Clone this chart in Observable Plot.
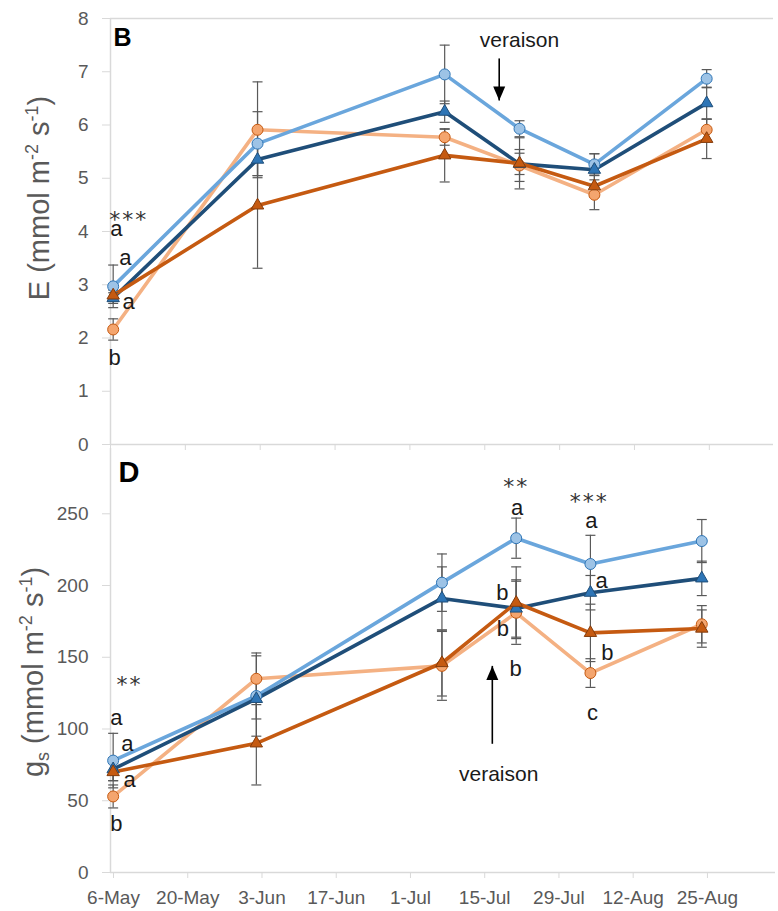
<!DOCTYPE html>
<html><head><meta charset="utf-8">
<script src="https://cdn.jsdelivr.net/npm/d3@7"></script>
<script src="https://cdn.jsdelivr.net/npm/@observablehq/plot@0.6"></script>
<style>
body{margin:0;background:#fff;}
#wrap{position:relative;width:778px;height:911px;background:#fff;}
#wrap svg{position:absolute;left:0;}
</style></head><body><div id="wrap"></div>
<script>
// ---- data ----
const sampleDays = [0.5, 27.5, 62.5, 76.5, 90.5, 111.5]; // days after 6-May
const tickDays = [0, 14, 28, 42, 56, 70, 84, 98, 112];
const tickLabels = ["6-May","20-May","3-Jun","17-Jun","1-Jul","15-Jul","29-Jul","12-Aug","25-Aug"];
const seriesNames = ["T1", "T2", "T3", "T4"]; // T1 light-blue circles, T2 dark-blue triangles, T3 light-orange circles, T4 dark-orange triangles

const E_T1 = [2.97, 5.65, 6.95, 5.93, 5.26, 6.87];
const E_T2 = [2.75, 5.35, 6.25, 5.27, 5.16, 6.41];
const E_T3 = [2.16, 5.91, 5.77, 5.24, 4.69, 5.91];
const E_T4 = [2.80, 4.49, 5.43, 5.28, 4.85, 5.74];
const E_T1_err = [0.40, 0.60, 0.55, 0.15, 0.20, 0.17];
const E_T2_err = [0.10, 0.30, 0.20, 0.20, 0.30, 0.30];
const E_T3_err = [0.20, 0.90, 0.15, 0.30, 0.28, 0.20];
const E_T4_err = [0.10, 1.18, 0.50, 0.48, 0.20, 0.37];

const gs_T1 = [78, 123, 202, 233, 215, 231];
const gs_T2 = [72, 121, 191, 184, 195, 205];
const gs_T3 = [53, 135, 144, 181, 139, 173];
const gs_T4 = [70, 90, 146, 188, 167, 170];
const gs_T1_err = [19, 28, 20, 14, 20, 15];
const gs_T2_err = [8, 14, 22, 20, 12, 12];
const gs_T3_err = [8, 18, 24, 22, 10, 13];
const gs_T4_err = [6, 29, 23, 25, 20, 13];

const E_yTicks = [0, 1, 2, 3, 4, 5, 6, 7, 8];
const gs_yTicks = [0, 50, 100, 150, 200, 250];

const E_letters = [
  {day: 1.1, v: 4.04, t: "a"}, {day: 2.8, v: 3.51, t: "a"},
  {day: 3.4, v: 2.67, t: "a"}, {day: 0.75, v: 1.63, t: "b"}
];
const E_stars = [{day: 3.4, v: 4.22, t: "***"}];
const gs_letters = [
  {day: 1.1, v: 108, t: "a"}, {day: 3.2, v: 89.7, t: "a"}, {day: 3.6, v: 64.6, t: "a"}, {day: 1.1, v: 34, t: "b"},
  {day: 76.7, v: 254, t: "a"}, {day: 73.9, v: 195, t: "b"}, {day: 74, v: 170, t: "b"}, {day: 76.4, v: 142, t: "b"},
  {day: 90.7, v: 245, t: "a"}, {day: 92.6, v: 203, t: "a"}, {day: 93.7, v: 153, t: "b"}, {day: 90.9, v: 111, t: "c"}
];
const gs_stars = [{day: 3.6, v: 130.5, t: "**"}, {day: 76.5, v: 269, t: "**"}, {day: 90.3, v: 258.5, t: "***"}];

const E_veraison = {day: 76.5, v: 7.6, arrowDay: 72.7, from: 7.25, to: 6.46};
const gs_veraison = {day: 73.2, v: 68.8, arrowDay: 72.0, from: 89.7, to: 144};

// ---- styles ----
const styles = {
  T1: {line: "#6AA6DC", fill: "#9DC3E6", stroke: "#2E75B6", symbol: "circle", r: 5.5},
  T2: {line: "#1F4E79", fill: "#2E75B6", stroke: "#1F4E79", symbol: "triangle", r: 4.6},
  T3: {line: "#F4B183", fill: "#F4A56E", stroke: "#C55A11", symbol: "circle", r: 5.5},
  T4: {line: "#C55A11", fill: "#C55A11", stroke: "#843C0C", symbol: "triangle", r: 4.6}
};
const drawOrder = ["T3", "T1", "T2", "T4"];

const capSym = {draw(ctx) { ctx.moveTo(-5, 0); ctx.lineTo(5, 0); }};
const headDown = {draw(ctx) { ctx.moveTo(0, 0); ctx.lineTo(-6, -14); ctx.lineTo(6, -14); ctx.closePath(); }};
const headUp = {draw(ctx) { ctx.moveTo(0, 0); ctx.lineTo(-6, 14); ctx.lineTo(6, 14); ctx.closePath(); }};

function table(vals, errs) {
  return seriesNames.flatMap((s, k) => sampleDays.map((d, i) => ({series: s, day: d, v: vals[k][i], e: errs[k][i]})));
}
const E_rows = table([E_T1, E_T2, E_T3, E_T4], [E_T1_err, E_T2_err, E_T3_err, E_T4_err]);
const gs_rows = table([gs_T1, gs_T2, gs_T3, gs_T4], [gs_T1_err, gs_T2_err, gs_T3_err, gs_T4_err]);

const FONT = "'Liberation Sans', Arial, sans-serif";
const AXIS = "#d9d9d9";
const INK = "#1a1a1a";

function seriesMarks(rows) {
  const m = [];
  for (const s of drawOrder) {
    m.push(Plot.line(rows.filter(d => d.series === s), {x: "day", y: "v", stroke: styles[s].line, strokeWidth: 3.6}));
  }
  m.push(Plot.ruleX(rows, {x: "day", y1: d => d.v - d.e, y2: d => d.v + d.e, stroke: "#595959", strokeWidth: 1.2}));
  m.push(Plot.dot(rows, {x: "day", y: d => d.v + d.e, symbol: capSym, stroke: "#595959", strokeWidth: 1.2, fill: "none"}));
  m.push(Plot.dot(rows, {x: "day", y: d => d.v - d.e, symbol: capSym, stroke: "#595959", strokeWidth: 1.2, fill: "none"}));
  for (const s of drawOrder) {
    const st = styles[s];
    m.push(Plot.dot(rows.filter(d => d.series === s), {x: "day", y: "v", symbol: st.symbol, r: st.r, fill: st.fill, stroke: st.stroke, strokeWidth: 1}));
  }
  return m;
}

function annotMarks(letters, stars, ver, head) {
  return [
    Plot.text(letters, {x: "day", y: "v", text: "t", fontSize: 22, fill: INK}),
    Plot.text(stars, {x: "day", y: "v", text: "t", fontSize: 22, fontFamily: "'DejaVu Sans', sans-serif", fill: "#333"}),
    Plot.text([ver], {x: "day", y: "v", text: () => "veraison", fontSize: 21, fill: INK}),
    Plot.link([ver], {x1: "arrowDay", x2: "arrowDay", y1: "from", y2: "to", stroke: "#000", strokeWidth: 1.6}),
    Plot.dot([ver], {x: "arrowDay", y: "to", symbol: head, fill: "#000", stroke: "none"})
  ];
}

const wrap = document.getElementById("wrap");

// ---- top panel (B) ----
const topChart = Plot.plot({
  width: 778, height: 447,
  marginLeft: 110, marginRight: 5, marginTop: 18, marginBottom: 3,
  style: {fontFamily: FONT, fontSize: "19px", color: "#595959", background: "transparent", overflow: "visible"},
  x: {domain: [0, 124]},
  y: {domain: [0, 8]},
  marks: [
    Plot.ruleY([0, 8], {stroke: AXIS, strokeWidth: 1.5}),
    Plot.ruleX([0], {stroke: AXIS, strokeWidth: 1.5}),
    Plot.axisY({ticks: E_yTicks, tickSize: 8, tickPadding: 14, stroke: AXIS, fill: "#595959", label: null, fontSize: 19}),
    Plot.axisX({ticks: tickDays, tickSize: 6, tickFormat: () => "", stroke: AXIS, label: null}),
    ...seriesMarks(E_rows),
    ...annotMarks(E_letters, E_stars, E_veraison, headDown),
    Plot.text(["B"], {frameAnchor: "top-left", dx: 3, dy: 10, textAnchor: "start", fontWeight: "bold", fontSize: 25, fill: "#000"})
  ]
});
topChart.style.top = "0px";
wrap.appendChild(topChart);

// ---- bottom panel (D) ----
const bottomChart = Plot.plot({
  width: 778, height: 464,
  marginLeft: 110, marginRight: 3, marginTop: 1, marginBottom: 39,
  style: {fontFamily: FONT, fontSize: "19px", color: "#595959", background: "transparent", overflow: "visible"},
  x: {domain: [0, 125.4]},
  y: {domain: [0, 295.5]},
  marks: [
    Plot.ruleY([0], {stroke: AXIS, strokeWidth: 1.5}),
    Plot.ruleX([0], {stroke: AXIS, strokeWidth: 1.5}),
    Plot.axisY({ticks: gs_yTicks, tickSize: 8, tickPadding: 14, stroke: AXIS, fill: "#595959", label: null, fontSize: 19}),
    Plot.axisX({ticks: tickDays, tickSize: 6, tickPadding: 12, dx: 3, tickFormat: d => tickLabels[tickDays.indexOf(d)], stroke: AXIS, fill: "#595959", label: null, fontSize: 19}),
    ...seriesMarks(gs_rows),
    ...annotMarks(gs_letters, gs_stars, gs_veraison, headUp),
    Plot.text(["D"], {frameAnchor: "top-left", dx: 8, dy: 13, textAnchor: "start", fontWeight: "bold", fontSize: 29, fill: "#000"})
  ]
});
bottomChart.style.top = "447px";
wrap.appendChild(bottomChart);

// asterisk spacing
for (const svg of [topChart, bottomChart]) {
  d3.select(svg).selectAll("text").filter(function() { return /^\*+$/.test(this.textContent); })
    .attr("letter-spacing", "2px");
}

// y-axis titles with super/subscripts
function yTitle(svg, x, y, parts) {
  const t = d3.select(svg).append("text")
    .attr("transform", `translate(${x},${y}) rotate(-90)`)
    .attr("text-anchor", "middle")
    .attr("fill", "#595959")
    .attr("font-family", FONT)
    .attr("font-size", 29);
  let shift = 0;
  for (const [txt, kind] of parts) {
    const target = kind === "sup" ? -11 : kind === "sub" ? 6 : 0;
    const ts = t.append("tspan").text(txt).attr("dy", target - shift);
    if (kind) ts.attr("font-size", 18);
    shift = target;
  }
}
yTitle(topChart, 49, 198, [["E (mmol m"], ["-2", "sup"], [" s"], ["-1", "sup"], [")"]]);
yTitle(bottomChart, 43, 225, [["g"], ["s", "sub"], [" (mmol m"], ["-2", "sup"], [" s"], ["-1", "sup"], [")"]]);
</script>
</body></html>
